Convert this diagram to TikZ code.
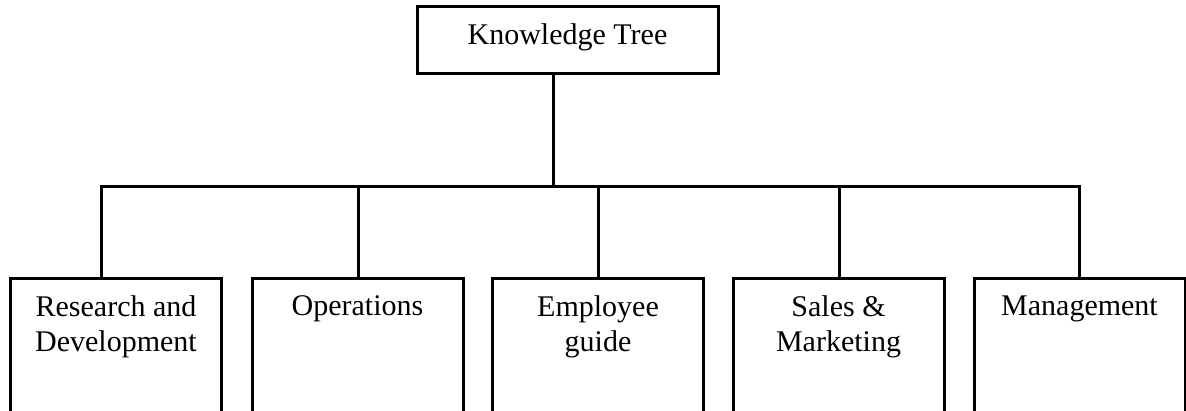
\documentclass[tikz,border=0pt]{standalone}
\usepackage{fontspec}
\setmainfont{Liberation Serif}
\usetikzlibrary{calc}
\tikzset{
  x=1pt, y=-1pt,
  every picture/.style={line width=3pt},
  topbox/.style={draw, line width=3pt, rectangle, inner sep=0pt,
    minimum width=301pt, minimum height=67pt,
    text height=20pt, text depth=11pt,
    font=\fontsize{30}{34.5}\selectfont},
  leafbox/.style={draw, line width=3pt, rectangle, inner sep=0pt,
    minimum width=211pt, minimum height=200pt, anchor=north},
  lbl/.style={inner sep=0pt, anchor=north, align=center,
    font=\fontsize{30}{34.5}\selectfont},
  wire/.style={line width=3pt, line join=miter, line cap=rect}
}
\begin{document}
\begin{tikzpicture}
\useasboundingbox (0,0) rectangle (1186,410);
\clip (0,0) rectangle (1186,410);

\node[topbox] (kt) at (567.5,39.5) {Knowledge Tree};

\node[leafbox] (b1) at (116,277) {};
\node[leafbox] (b2) at (357.5,277) {};
\node[leafbox] (b3) at (598,277) {};
\node[leafbox] (b4) at (838.5,277) {};
\node[leafbox] (b5) at (1079.5,277) {};

\node[lbl] (t1) at ($(b1.north)+(0,17.5)$) {Research and\\Development};
\node[lbl] (t2) at ($(b2.north)+(0,17.5)$) {Operations};
\node[lbl] (t3) at ($(b3.north)+(0,17.5)$) {Employee\\guide};
\node[lbl] (t4) at ($(b4.north)+(0,17.5)$) {Sales \&\\Marketing};
\node[lbl] (t5) at ($(b5.north)+(0,17.5)$) {Management};

\coordinate (jt) at (553,186);
\coordinate (j1) at (101,186);
\coordinate (j2) at (358,186);
\coordinate (j3) at (598,186);
\coordinate (j4) at (839,186);
\coordinate (j5) at (1079,186);

\draw[wire] (jt |- kt.south) -- (jt);
\draw[wire, line cap=butt] (j1 |- b1.north) -- (j1) -- (j5) -- (j5 |- b5.north);
\draw[wire, line cap=butt] (j2) -- (j2 |- b2.north);
\draw[wire, line cap=butt] (j3) -- (j3 |- b3.north);
\draw[wire, line cap=butt] (j4) -- (j4 |- b4.north);
\end{tikzpicture}
\end{document}
